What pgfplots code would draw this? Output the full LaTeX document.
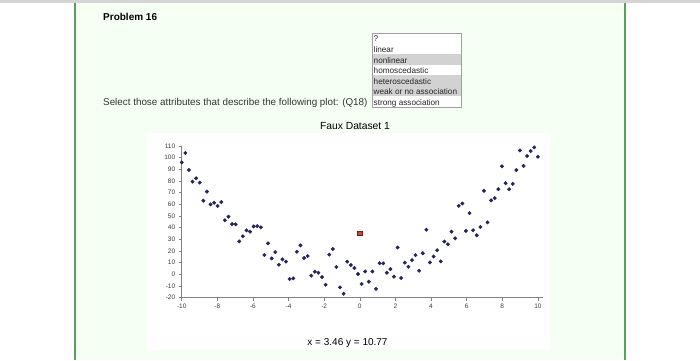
\documentclass[border=0pt]{standalone}
\usepackage{pgfplots}
\pgfplotsset{compat=1.18}
\usepackage{fontspec}
\setmainfont{Liberation Sans}
\definecolor{panelgreen}{RGB}{245,255,243}
\definecolor{bordergreen}{RGB}{90,160,90}
\definecolor{topgray}{RGB}{212,212,212}
\definecolor{axisgray}{RGB}{130,130,130}
\definecolor{ticktext}{RGB}{60,60,60}
\definecolor{dotnavy}{RGB}{35,35,95}
\definecolor{hl}{RGB}{210,210,210}
\definecolor{boxgray}{RGB}{160,160,160}
\definecolor{qtext}{RGB}{40,60,40}
\definecolor{redfill}{RGB}{190,70,60}
\definecolor{reddraw}{RGB}{120,30,30}
\begin{document}
\begin{tikzpicture}
\path[use as bounding box] (0pt,0pt) rectangle (700pt,360pt);
\fill[white] (0pt,0pt) rectangle (700pt,360pt);
\fill[panelgreen] (75pt,0pt) rectangle (625pt,357pt);
\fill[topgray] (0pt,357pt) rectangle (700pt,360pt);
\draw[bordergreen, line width=1.2pt] (75pt,0pt) -- (75pt,357pt);
\draw[bordergreen, line width=1.2pt] (625pt,0pt) -- (625pt,357pt);
\fill[white] (147pt,10pt) rectangle (550pt,227pt);
% texts
\node[anchor=base west, inner sep=0pt, font=\bfseries\fontsize{10}{12}\selectfont] at (103pt,339.4pt) {Problem 16};
\node[anchor=base west, inner sep=0pt, text=qtext, font=\fontsize{9.85}{12}\selectfont] at (103pt,254.5pt) {Select those attributes that describe the following plot: (Q18)};
% list box
\fill[white] (372pt,252.3pt) rectangle (461pt,326.5pt);
\fill[hl] (372pt,295.4pt) rectangle (461pt,306pt);
\fill[hl] (372pt,263.6pt) rectangle (461pt,284.8pt);
\draw[boxgray, line width=0.7pt] (372pt,252.3pt) rectangle (461pt,326.5pt);
\begin{scope}[every node/.style={anchor=base west, inner sep=0pt, font=\fontsize{8.2}{10}\selectfont, text=black!85}]
\node at (373.5pt,318.2pt) {?};
\node at (373.5pt,307.6pt) {linear};
\node at (373.5pt,297.0pt) {nonlinear};
\node at (373.5pt,286.4pt) {homoscedastic};
\node at (373.5pt,275.8pt) {heteroscedastic};
\node at (373.5pt,265.2pt) {weak or no association};
\node at (373.5pt,254.6pt) {strong association};
\end{scope}
\node[anchor=base, inner sep=0pt, font=\fontsize{10.3}{12}\selectfont] at (355pt,230.4pt) {Faux Dataset 1};
\node[anchor=base, inner sep=0pt, font=\fontsize{10}{12}\selectfont] at (347.5pt,15pt) {x = 3.46 y = 10.77};
\begin{axis}[
  at={(181.7pt,62.3pt)}, anchor=south west,
  scale only axis, width=361pt, height=151.7pt,
  xmin=-10, xmax=10.27, ymin=-20, ymax=110,
  axis x line*=bottom, axis y line*=left,
  axis line style={draw=axisgray, line width=0.8pt, -},
  tick align=outside, major tick length=3pt,
  tick style={draw=axisgray, line width=0.6pt},
  xtick={-10,-8,...,10}, ytick={-20,-10,...,110},
  ticklabel style={font=\fontsize{6.5}{7}\selectfont, text=ticktext},
  /pgf/number format/assume math mode=true,
  clip=false,
]
\addplot[only marks, mark=*, mark size=1.75pt, mark options={fill=dotnavy, draw=dotnavy}] coordinates {
(-10.000,96) (-9.798,104) (-9.596,89.4) (-9.394,79.4) (-9.192,82.3)
(-8.990,78.6) (-8.788,63.1) (-8.586,70.9) (-8.384,60) (-8.182,61.4)
(-7.980,58.6) (-7.778,62) (-7.576,46.3) (-7.374,49.4) (-7.172,43.1)
(-6.970,42.9) (-6.768,28.3) (-6.566,32.6) (-6.364,37.7) (-6.162,36.6)
(-5.960,41.1) (-5.758,41.4) (-5.556,40.3) (-5.354,16.6) (-5.152,26.6)
(-4.949,13.7) (-4.747,19.1) (-4.545,8.3) (-4.343,12.9) (-4.141,10.9)
(-3.939,-4) (-3.737,-3.4) (-3.535,19.4) (-3.333,24.9) (-3.131,14)
(-2.929,15.7) (-2.727,-1.1) (-2.525,2.3) (-2.323,1.4) (-2.121,-2.3)
(-1.919,-8.9) (-1.717,16.9) (-1.515,21.7) (-1.313,6.3) (-1.111,-11.1)
(-0.909,-16.6) (-0.707,10.9) (-0.505,8) (-0.303,5.4) (-0.101,0.3)
(0.101,-8.2) (0.303,2.5) (0.505,-6.3) (0.707,2.5) (0.909,-12.5)
(1.111,9.6) (1.313,9.4) (1.515,1.4) (1.717,4.5) (1.919,-2)
(2.121,23) (2.323,-3.1) (2.525,10) (2.727,6.5) (2.929,12.2)
(3.131,16.5) (3.333,3.1) (3.535,18.1) (3.737,38.3) (3.939,10.2)
(4.141,15.3) (4.343,20.7) (4.545,11.1) (4.747,28.1) (4.949,25.8)
(5.152,36.6) (5.354,30.9) (5.556,58.7) (5.758,60.7) (5.960,37.2)
(6.162,52.5) (6.364,37.8) (6.566,33.5) (6.768,40.6) (6.970,71.6)
(7.172,44.6) (7.374,63.4) (7.576,65.3) (7.778,73) (7.980,92.6)
(8.182,78.1) (8.384,73) (8.586,77.5) (8.788,89.4) (8.990,106.2)
(9.192,92.9) (9.394,101.4) (9.596,105.7) (9.798,108.8) (10.000,100.8)
};
\addplot[only marks, mark=square*, mark size=2.1pt, mark options={fill=redfill, draw=reddraw, line width=0.5pt}] coordinates {(0,34.9)};
\end{axis}
\end{tikzpicture}
\end{document}
